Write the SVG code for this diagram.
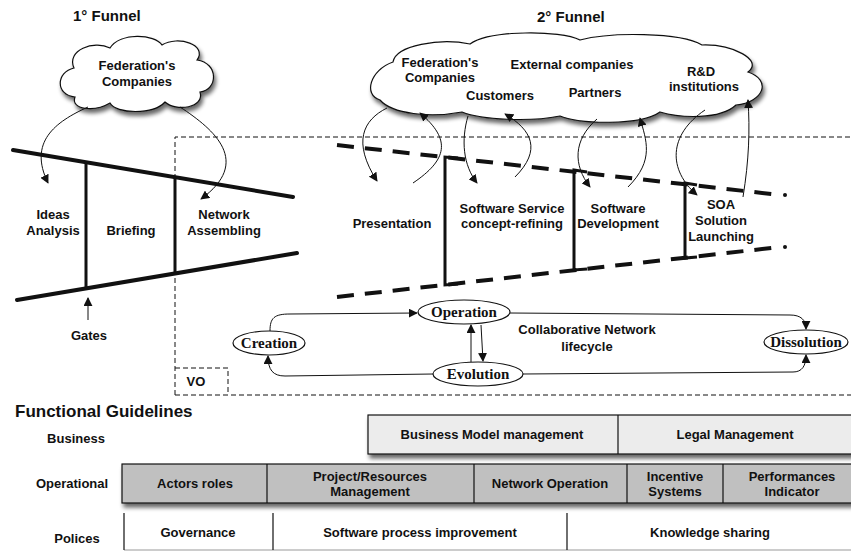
<svg xmlns="http://www.w3.org/2000/svg" width="851" height="552" viewBox="0 0 851 552">
<style>
.t{font-family:"Liberation Sans",Arial,sans-serif;font-weight:bold;font-size:13px;fill:#111;text-anchor:middle}
.title{font-family:"Liberation Sans",Arial,sans-serif;font-weight:bold;font-size:15px;fill:#111}
.e{font-family:"Liberation Serif","Times New Roman",serif;font-weight:bold;font-size:15px;fill:#111;text-anchor:middle}
.cloud{fill:#fff;stroke:#111;stroke-width:1.2}
.fun{stroke:#111;stroke-width:4;fill:none;stroke-linecap:round}
.gate{stroke:#111;stroke-width:3;fill:none}
.fun2{stroke:#111;stroke-width:4;fill:none;stroke-dasharray:17 11}
.conn{stroke:#111;stroke-width:1;fill:none}
.dash{stroke:#111;stroke-width:1;fill:none;stroke-dasharray:5 3}
.ell{fill:#fff;stroke:#111;stroke-width:1.2}
.box{stroke:#111;stroke-width:1.2}
</style>
<defs>
<marker id="ah" viewBox="0 0 10 10" refX="9" refY="5" markerWidth="9" markerHeight="9" markerUnits="userSpaceOnUse" orient="auto"><path d="M0,0 L10,5 L0,10 Z" fill="#111"/></marker>
<filter id="sh" x="-10%" y="-10%" width="130%" height="140%"><feGaussianBlur in="SourceAlpha" stdDeviation="2"/><feOffset dx="2" dy="4" result="b"/><feComponentTransfer><feFuncA type="linear" slope="0.6"/></feComponentTransfer><feMerge><feMergeNode/><feMergeNode in="SourceGraphic"/></feMerge></filter>
</defs>
<rect width="851" height="552" fill="#fff"/>

<text class="title" x="73" y="21">1° Funnel</text>
<text class="title" x="537" y="22">2° Funnel</text>

<g id="cloud1">
<path class="cloud" filter="url(#sh)" d="M75,97 C55,95 56,72 74,68 C66,50 94,40 110,48 C120,32 155,34 162,45 C178,35 208,45 197,60 C219,63 218,90 200,92 C205,108 176,112 165,102 C153,115 116,114 110,103 C95,112 70,110 75,97 Z"/>
<text class="t" x="137" y="70">Federation's</text>
<text class="t" x="137" y="86">Companies</text>
</g>

<g id="cloud2">
<path class="cloud" filter="url(#sh)" d="M380,100 C363,95 370,70 393,62 C396,45 440,38 470,44 C490,30 560,30 580,40 C610,32 680,32 702,45 C732,44 764,60 748,72 C772,80 764,102 736,105 C720,120 680,118 660,112 C640,126 580,124 560,116 C530,122 482,120 462,112 C430,118 392,114 380,100 Z"/>
<text class="t" x="440" y="67">Federation's</text>
<text class="t" x="440" y="82">Companies</text>
<text class="t" x="572" y="69">External companies</text>
<text class="t" x="701" y="76">R&amp;D</text>
<text class="t" x="704" y="91">institutions</text>
<text class="t" x="500" y="100">Customers</text>
<text class="t" x="595" y="97">Partners</text>
</g>

<g id="vo">
<path class="dash" d="M175,395 L175,137 L851,137 M175,395 L851,395"/>
<path class="dash" d="M175,368 L228,368 L228,395"/>
<text class="t" x="196" y="386">VO</text>
</g>

<g id="funnel1">
<path class="fun" d="M13,150 L293,197 M17,300 L297,253"/>
<path class="gate" d="M86,163 L86,288 M175,178 L175,273"/>
<text class="t" x="53" y="219">Ideas</text>
<text class="t" x="53" y="235">Analysis</text>
<text class="t" x="131" y="235">Briefing</text>
<text class="t" x="224" y="219">Network</text>
<text class="t" x="224" y="235">Assembling</text>
<text class="t" x="89" y="340">Gates</text>
</g>

<g id="funnel2">
<path class="fun2" d="M337,145 L780,195 M337,297 L780,247"/>
<circle cx="785" cy="195" r="2" fill="#111"/>
<circle cx="785" cy="247" r="2" fill="#111"/>
<path class="gate" d="M458,158 L445,157 L445,285 L458,284 M587,172 L574,170 L574,270 L587,269 M697,185 L685,183 L685,258 L697,257"/>
<text class="t" x="392" y="228">Presentation</text>
<text class="t" x="512" y="213">Software Service</text>
<text class="t" x="512" y="228">concept-refining</text>
<text class="t" x="618" y="213">Software</text>
<text class="t" x="618" y="228">Development</text>
<text class="t" x="721" y="209">SOA</text>
<text class="t" x="721" y="225">Solution</text>
<text class="t" x="721" y="241">Launching</text>
</g>

<g id="creation"><ellipse class="ell" cx="269" cy="343" rx="36" ry="12"/><text class="e" x="269" y="348">Creation</text></g>
<g id="operation"><ellipse class="ell" cx="464" cy="312" rx="46" ry="12"/><text class="e" x="464" y="317">Operation</text></g>
<g id="evolution"><ellipse class="ell" cx="478" cy="374" rx="45" ry="12"/><text class="e" x="478" y="379">Evolution</text></g>
<g id="dissolution"><ellipse class="ell" cx="806" cy="342" rx="42" ry="12"/><text class="e" x="806" y="347">Dissolution</text></g>
<text class="t" x="587" y="334">Collaborative Network</text>
<text class="t" x="587" y="351">lifecycle</text>

<g id="connectors">
<path class="conn" marker-end="url(#ah)" d="M88,107 C55,122 28,142 48,183"/>
<path class="conn" marker-end="url(#ah)" d="M180,107 C215,130 252,162 201,199"/>
<path class="conn" stroke-width="1.5" marker-end="url(#ah)" d="M88,320 L88,298"/>
<path class="conn" marker-end="url(#ah)" d="M387,108 C363,120 352,142 377,181"/>
<path class="conn" marker-end="url(#ah)" d="M413,183 C447,160 452,140 420,113"/>
<path class="conn" marker-end="url(#ah)" d="M468,116 C461,140 463,165 477,183"/>
<path class="conn" marker-end="url(#ah)" d="M515,177 C542,150 532,130 505,114"/>
<path class="conn" marker-end="url(#ah)" d="M597,119 C573,140 573,165 590,187"/>
<path class="conn" marker-end="url(#ah)" d="M628,187 C655,160 646,140 640,118"/>
<path class="conn" marker-end="url(#ah)" d="M705,110 C668,135 668,170 697,195"/>
<path class="conn" marker-end="url(#ah)" d="M743,197 C749,160 750,130 748,100"/>
<path class="conn" marker-end="url(#ah)" d="M270,331 C270,318 274,314 290,314 L417,313"/>
<path class="conn" marker-end="url(#ah)" d="M510,313 L790,315 C801,315 806,320 806,329"/>
<path class="conn" marker-end="url(#ah)" d="M481,325 L483,361"/>
<path class="conn" marker-end="url(#ah)" d="M471,362 L471,325"/>
<path class="conn" marker-end="url(#ah)" d="M433,374 L285,376 C273,376 268,370 268,356"/>
<path class="conn" marker-end="url(#ah)" d="M523,374 L793,372 C802,372 806,366 806,355"/>
</g>

<text x="15" y="417" style="font-family:'Liberation Sans',Arial,sans-serif;font-weight:bold;font-size:17px;fill:#111">Functional Guidelines</text>
<text class="t" x="76" y="443">Business</text>
<text class="t" x="72" y="488">Operational</text>
<text class="t" x="77" y="543">Polices</text>

<g id="business">
<rect class="box" filter="url(#sh)" x="368" y="415" width="490" height="39" fill="#ececec"/>
<path class="box" d="M618,415 L618,454"/>
<text class="t" x="492" y="439">Business Model management</text>
<text class="t" x="735" y="439">Legal Management</text>
</g>

<g id="operational">
<rect class="box" filter="url(#sh)" x="122" y="464" width="736" height="39" fill="#c0c0c0"/>
<path class="box" d="M267,464 L267,503 M474,464 L474,503 M627,464 L627,503 M723,464 L723,503"/>
<text class="t" x="195" y="488">Actors roles</text>
<text class="t" x="370" y="481">Project/Resources</text>
<text class="t" x="370" y="496">Management</text>
<text class="t" x="550" y="488">Network Operation</text>
<text class="t" x="675" y="481">Incentive</text>
<text class="t" x="675" y="496">Systems</text>
<text class="t" x="792" y="481">Performances</text>
<text class="t" x="792" y="496">Indicator</text>
</g>

<g id="polices">
<path d="M124,550 L851,550" stroke="#bbb" stroke-width="1.5"/>
<path class="box" d="M124,513 L124,550 M273,513 L273,550 M567,513 L567,550"/>
<text class="t" x="198" y="537">Governance</text>
<text class="t" x="420" y="537">Software process improvement</text>
<text class="t" x="710" y="537">Knowledge sharing</text>
</g>
</svg>
